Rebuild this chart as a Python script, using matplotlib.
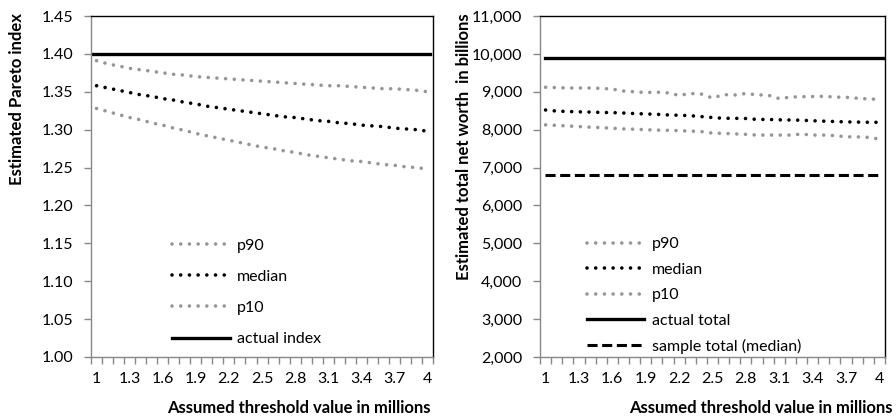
import matplotlib

matplotlib.use("Agg")
import matplotlib.pyplot as plt
from matplotlib.ticker import FixedLocator, FuncFormatter, NullFormatter

plt.rcParams["font.family"] = ["Lato", "DejaVu Sans"]

THRESHOLDS = [1.0, 1.1, 1.2, 1.3, 1.4, 1.5, 1.6, 1.7, 1.8, 1.9, 2.0, 2.1, 2.2, 2.3, 2.4, 2.5,
              2.6, 2.7, 2.8, 2.9, 3.0, 3.1, 3.2, 3.3, 3.4, 3.5, 3.6, 3.7, 3.8, 3.9, 4.0]
TICK_LABELS = ["1", "1.3", "1.6", "1.9", "2.2", "2.5", "2.8", "3.1", "3.4", "3.7", "4"]

PARETO_P90 = [1.391, 1.387, 1.384, 1.381, 1.379, 1.377, 1.375, 1.373, 1.372, 1.370, 1.369,
              1.368, 1.367, 1.366, 1.365, 1.364, 1.363, 1.362, 1.361, 1.360, 1.359, 1.358,
              1.358, 1.357, 1.356, 1.355, 1.354, 1.354, 1.353, 1.352, 1.350]
PARETO_MEDIAN = [1.358, 1.355, 1.352, 1.349, 1.346, 1.344, 1.341, 1.339, 1.336, 1.334, 1.331,
                 1.329, 1.327, 1.325, 1.323, 1.321, 1.319, 1.317, 1.316, 1.314, 1.312, 1.311,
                 1.309, 1.308, 1.306, 1.305, 1.304, 1.302, 1.301, 1.300, 1.298]
PARETO_P10 = [1.328, 1.324, 1.320, 1.316, 1.313, 1.309, 1.306, 1.302, 1.299, 1.295, 1.292,
              1.289, 1.286, 1.283, 1.280, 1.277, 1.275, 1.272, 1.270, 1.267, 1.265, 1.263,
              1.261, 1.259, 1.258, 1.256, 1.254, 1.253, 1.251, 1.250, 1.248]
PARETO_ACTUAL = 1.40

WORTH_P90 = [9120, 9110, 9100, 9100, 9100, 9090, 9070, 9020, 9000, 8980, 8990, 8970, 8905,
             8955, 8940, 8835, 8925, 8915, 8955, 8920, 8910, 8820, 8860, 8870, 8875, 8880,
             8860, 8855, 8830, 8810, 8800]
WORTH_MEDIAN = [8520, 8490, 8480, 8470, 8465, 8455, 8450, 8440, 8425, 8415, 8405, 8390, 8380,
                8370, 8345, 8320, 8300, 8300, 8295, 8270, 8270, 8260, 8255, 8250, 8235, 8225,
                8215, 8205, 8200, 8195, 8195]
WORTH_P10 = [8127, 8113, 8098, 8082, 8066, 8055, 8037, 8020, 8012, 7999, 7989, 7983, 7973,
             7963, 7949, 7910, 7902, 7889, 7876, 7857, 7857, 7857, 7857, 7884, 7857, 7857,
             7844, 7812, 7810, 7797, 7752]
WORTH_ACTUAL = 9880
WORTH_SAMPLE = 6800

GRAY = "#969696"
AXIS_GRAY = "#888888"
FS = 11.5
DOTTED = dict(lw=2.6, ls=(0, (0.01, 2.4)), dash_capstyle="round")


def _style_axes(ax: plt.Axes) -> None:
    n = len(THRESHOLDS)
    ax.set_xlim(-0.5, n - 0.5)
    for side in ("top", "right"):
        ax.spines[side].set_color("black")
        ax.spines[side].set_linewidth(1.0)
    for side in ("left", "bottom"):
        ax.spines[side].set_color(AXIS_GRAY)
        ax.spines[side].set_linewidth(1.0)
    ax.xaxis.set_major_locator(FixedLocator([i - 0.5 for i in range(n + 1)]))
    ax.xaxis.set_major_formatter(NullFormatter())
    label_pos = [i for i, t in enumerate(THRESHOLDS) if f"{t:g}" in TICK_LABELS]
    ax.xaxis.set_minor_locator(FixedLocator(label_pos))
    ax.set_xticklabels(TICK_LABELS, minor=True)
    ax.tick_params(axis="x", which="major", length=5, width=1, color=AXIS_GRAY)
    ax.tick_params(axis="x", which="minor", length=0, pad=11, labelsize=FS)
    ax.tick_params(axis="y", length=5, width=1, color=AXIS_GRAY, pad=8, labelsize=FS)


def main() -> None:
    fig = plt.figure(figsize=(8.96, 4.17), dpi=100)
    ax1 = fig.add_axes([0.1016, 0.1439, 0.3817, 0.8177])
    ax2 = fig.add_axes([0.6027, 0.1439, 0.3850, 0.8177])
    x = list(range(len(THRESHOLDS)))

    # left: Pareto index
    h90, = ax1.plot(x, PARETO_P90, color=GRAY, **DOTTED)
    hmed, = ax1.plot(x, PARETO_MEDIAN, color="black", **DOTTED)
    h10, = ax1.plot(x, PARETO_P10, color=GRAY, **DOTTED)
    hact = ax1.axhline(PARETO_ACTUAL, xmin=0.004, xmax=0.99, color="black", lw=2.4)
    ax1.set_ylim(1.00, 1.45)
    ax1.set_yticks([1.00 + 0.05 * k for k in range(10)])
    ax1.yaxis.set_major_formatter(FuncFormatter(lambda v, _: f"{v:.2f}"))
    _style_axes(ax1)
    ax1.legend([h90, hmed, h10, hact], ["p90", "median", "p10", "actual index"],
               loc="upper left", bbox_to_anchor=(0.237, 0.348), frameon=False,
               handlelength=3.6, handletextpad=0.45, labelspacing=1.07,
               borderpad=0, borderaxespad=0, fontsize=FS)

    # right: total net worth
    g90, = ax2.plot(x, WORTH_P90, color=GRAY, **DOTTED)
    gmed, = ax2.plot(x, WORTH_MEDIAN, color="black", **DOTTED)
    g10, = ax2.plot(x, WORTH_P10, color=GRAY, **DOTTED)
    gact = ax2.axhline(WORTH_ACTUAL, xmin=0.014, xmax=0.994, color="black", lw=2.4)
    gsam = ax2.axhline(WORTH_SAMPLE, xmin=0.014, xmax=0.986, color="black", lw=2.2,
                       ls=(0, (3.3, 1.5)))
    ax2.set_ylim(2000, 11000)
    ax2.set_yticks(range(2000, 11001, 1000))
    ax2.yaxis.set_major_formatter(FuncFormatter(lambda v, _: f"{v:,.0f}"))
    _style_axes(ax2)
    ax2.legend([g90, gmed, g10, gact, gsam],
               ["p90", "median", "p10", "actual total", "sample total (median)"],
               loc="upper left", bbox_to_anchor=(0.136, 0.351), frameon=False,
               handlelength=3.6, handletextpad=0.45, labelspacing=0.7,
               borderpad=0, borderaxespad=0, fontsize=FS)

    # axis titles placed like the spreadsheet original
    fig.text(17 / 896, 1 - 13 / 417, "Estimated Pareto index", rotation=90,
             ha="center", va="top", fontsize=12, fontweight="bold")
    fig.text(464 / 896, 1 - 13 / 417, "Estimated total net worth  in billions", rotation=90,
             ha="center", va="top", fontsize=12, fontweight="bold")
    fig.text(431 / 896, 1 - 408 / 417, "Assumed threshold value in millions",
             ha="right", va="center", fontsize=12, fontweight="bold")
    fig.text(893 / 896, 1 - 408 / 417, "Assumed threshold value in millions",
             ha="right", va="center", fontsize=12, fontweight="bold")

    fig.savefig("out.png", dpi=100)
    plt.close(fig)


if __name__ == "__main__":
    main()
